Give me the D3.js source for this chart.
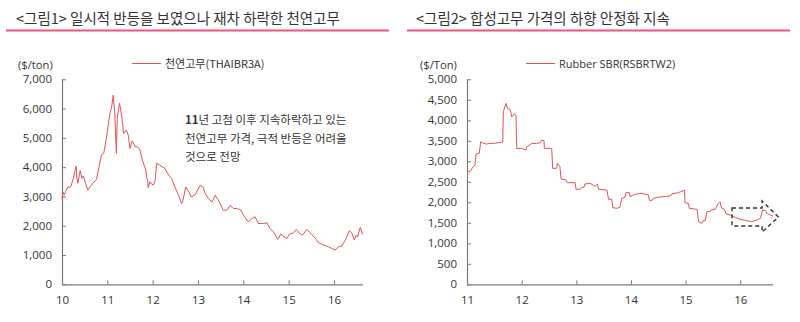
<!DOCTYPE html>
<html><head><meta charset="utf-8">
<script src="https://cdn.jsdelivr.net/npm/d3@7"></script>
<style>
body{margin:0;background:#fff;}
svg{display:block;}
text{font-family:"Open Sans","Noto Sans",sans-serif;}
.kr{font-family:"Noto Sans CJK KR","Noto Sans",sans-serif;}
</style></head>
<body>
<svg id="c" width="800" height="322"></svg>
<script>
// ---- data ----
const titles = ["<그림1> 일시적 반등을 보였으나 재차 하락한 천연고무", "<그림2> 합성고무 가격의 하향 안정화 지속"];
const legendNames = ["천연고무(THAIBR3A)", "Rubber SBR(RSBRTW2)"];
const unitLabels = ["($/ton)", "($/Ton)"];
const xTickLabelsLeft = ["10","11","12","13","14","15","16"];
const xTickLabelsRight = ["11","12","13","14","15","16"];
const yTicksLeft = [0,1000,2000,3000,4000,5000,6000,7000];
const yTicksRight = [0,500,1000,1500,2000,2500,3000,3500,4000,4500,5000];
const annotation = ["11년 고점 이후 지속하락하고 있는", "천연고무 가격, 극적 반등은 어려울", "것으로 전망"];

// natural rubber (year as decimal)
const nrDates = [2010.00,2010.02,2010.05,2010.09,2010.13,2010.17,2010.20,2010.25,2010.31,2010.33,2010.35,2010.40,2010.44,2010.47,2010.52,2010.57,2010.62,2010.68,2010.76,2010.82,2010.87,2010.92,2010.98,2011.05,2011.10,2011.13,2011.16,2011.20,2011.22,2011.27,2011.32,2011.36,2011.42,2011.46,2011.50,2011.55,2011.61,2011.66,2011.72,2011.76,2011.81,2011.85,2011.87,2011.89,2011.90,2011.94,2011.98,2012.01,2012.05,2012.09,2012.16,2012.22,2012.27,2012.31,2012.37,2012.42,2012.49,2012.57,2012.64,2012.66,2012.73,2012.80,2012.85,2012.93,2013.05,2013.11,2013.16,2013.23,2013.31,2013.38,2013.45,2013.56,2013.64,2013.71,2013.78,2013.87,2013.95,2014.00,2014.11,2014.19,2014.26,2014.33,2014.44,2014.52,2014.59,2014.66,2014.76,2014.83,2014.90,2014.96,2015.02,2015.11,2015.17,2015.24,2015.31,2015.40,2015.49,2015.59,2015.66,2015.77,2015.88,2015.95,2016.03,2016.10,2016.17,2016.25,2016.34,2016.40,2016.45,2016.49,2016.52,2016.58,2016.63];
const nrValues = [2900,3150,3050,3200,3330,3300,3360,3620,4040,3600,3450,3880,3620,3700,3450,3220,3330,3450,3580,4020,4415,4470,4985,5780,6100,6460,5950,4470,5720,6180,5720,5150,5270,5100,4640,4900,4700,4700,4590,4300,4070,3900,3620,3560,3300,3500,3420,3390,3500,4130,4070,4000,3960,3837,3700,3610,3325,3040,2755,2812,3325,3155,2983,3040,3380,3325,3097,2927,2812,3040,2870,2530,2530,2700,2587,2587,2530,2360,2133,2246,2303,2076,2076,2100,1906,1793,1532,1714,1623,1566,1714,1760,1872,1737,1680,1872,1737,1566,1419,1339,1282,1226,1169,1282,1305,1509,1827,1737,1509,1680,1623,1940,1714];

// SBR
const sbrDates = [2011.00,2011.055,2011.104,2011.147,2011.165,2011.225,2011.251,2011.30,2011.36,2011.42,2011.48,2011.57,2011.654,2011.665,2011.714,2011.74,2011.79,2011.82,2011.866,2011.897,2011.91,2012.00,2012.08,2012.093,2012.15,2012.185,2012.276,2012.337,2012.368,2012.41,2012.416,2012.55,2012.568,2012.64,2012.654,2012.70,2012.722,2012.81,2012.837,2012.978,2012.996,2013.07,2013.10,2013.14,2013.16,2013.25,2013.31,2013.34,2013.386,2013.405,2013.56,2013.59,2013.65,2013.668,2013.74,2013.80,2013.833,2013.89,2013.91,2013.97,2013.985,2014.046,2014.11,2014.20,2014.24,2014.32,2014.34,2014.40,2014.41,2014.50,2014.60,2014.72,2014.75,2014.87,2014.96,2014.98,2014.99,2015.05,2015.07,2015.21,2015.24,2015.30,2015.32,2015.36,2015.39,2015.45,2015.47,2015.54,2015.60,2015.63,2015.66,2015.71,2015.74,2015.82,2015.88,2016.00,2016.12,2016.21,2016.31,2016.37,2016.41,2016.46,2016.49,2016.55,2016.60];
const sbrValues = [2746,2746,2853,2910,3178,3195,3478,3437,3420,3437,3437,3453,3470,4210,4415,4290,4260,4080,4160,4120,3316,3316,3276,3357,3397,3437,3437,3453,3518,3502,3316,3316,2829,2829,2951,2870,2568,2544,2479,2479,2317,2317,2366,2366,2447,2463,2422,2382,2447,2317,2300,2073,2073,1870,1853,1880,2098,2122,2236,2236,2140,2180,2204,2220,2204,2180,2041,2057,2098,2122,2140,2155,2204,2236,2285,2300,1990,1974,1853,1828,1528,1488,1553,1553,1771,1771,1812,1828,1975,2015,1853,1828,1715,1690,1650,1585,1553,1528,1569,1610,1812,1796,1731,1690,1666];

// dashed arrow outline in data units [year, value]
const arrowPts = [[2015.85,1861],[2016.40,1861],[2016.40,2032],[2016.70,1641],[2016.40,1276],[2016.40,1422],[2015.85,1422]];

// ---- drawing ----
const svg = d3.select("#c");
const red = "#de5358";
const axisColor = "#7a7a7a";
const textColor = "#333";

function fmt(v){ return d3.format(",")(v); }

function panel(o){
  const x = d3.scaleLinear().domain(o.xDomain).range([o.left, o.right]);
  const y = d3.scaleLinear().domain(o.yDomain).range([o.bottom, o.top]);
  const g = svg.append("g");
  // title
  g.append("text").attr("class","kr").attr("x",o.titleX).attr("y",24)
    .attr("font-size",14.5).attr("fill",textColor).text(o.title);
  g.append("line").attr("x1",o.ruleX1).attr("x2",o.ruleX2).attr("y1",30.5).attr("y2",30.5)
    .attr("stroke","#e9577d").attr("stroke-width",2);
  // unit
  g.append("text").attr("x",o.unitX).attr("y",69).attr("font-size",11.2).attr("fill",textColor).text(o.unit);
  // legend
  g.append("line").attr("x1",o.legX).attr("x2",o.legX+29).attr("y1",63.5).attr("y2",63.5)
    .attr("stroke",red).attr("stroke-width",1);
  g.append("text").attr("class", o.legKr ? "kr" : null).attr("x",o.legX+33).attr("y",67.5)
    .attr("font-size",11).attr("fill",textColor).text(o.legend);
  // axes
  const yAxis = d3.axisLeft(y).tickValues(o.yTicks).tickSize(-4).tickPadding(10).tickFormat(fmt);
  const ya = g.append("g").attr("transform",`translate(${o.left},0)`).call(yAxis);
  const xTickVals = o.xLabels.map(s => 2000 + (+s));
  const xAxis = d3.axisBottom(x).tickValues(xTickVals).tickSize(-4).tickPadding(12).tickFormat(d => String(d-2000));
  const xa = g.append("g").attr("transform",`translate(0,${o.bottom})`).call(xAxis);
  [ya,xa].forEach(a=>{
    a.select(".domain").attr("stroke",axisColor).attr("stroke-width",1.2);
    a.selectAll(".tick line").attr("stroke",axisColor).attr("stroke-width",1);
    a.selectAll(".tick text").attr("fill",textColor).attr("font-size",11.5)
      .attr("font-family","'Open Sans','Noto Sans',sans-serif");
  });
  xa.select(".domain").attr("d",`M${o.left},0.5H${o.right}`);
  ya.select(".domain").attr("d",`M0.5,${o.bottom}V${o.top}`);
  // line
  const pts = o.dates.map((d,i)=>[d,o.values[i]]);
  g.append("path").datum(pts)
    .attr("d", d3.line().x(d=>x(d[0])).y(d=>y(d[1])))
    .attr("fill","none").attr("stroke",red).attr("stroke-width",1).attr("stroke-linejoin","round");
  return {x,y,g};
}

const L = panel({title:titles[0], titleX:16, ruleX1:6, ruleX2:389, unit:unitLabels[0], unitX:18,
  legX:132, legend:legendNames[0], legKr:true,
  xDomain:[2010, 2016.64], yDomain:[0,7000], left:62, right:363, top:79.3, bottom:284.3,
  yTicks:yTicksLeft, xLabels:xTickLabelsLeft, dates:nrDates, values:nrValues});

const R = panel({title:titles[1], titleX:416, ruleX1:407, ruleX2:790, unit:unitLabels[1], unitX:420,
  legX:526, legend:legendNames[1], legKr:false,
  xDomain:[2011, 2016.6], yDomain:[0,5000], left:467, right:773, top:79.3, bottom:284.3,
  yTicks:yTicksRight, xLabels:xTickLabelsRight, dates:sbrDates, values:sbrValues});

// annotation
annotation.forEach((s,i)=>{
  const t = L.g.append("text").attr("class","kr").attr("x",185).attr("y",124+i*18.5)
    .attr("font-size",11.5).attr("fill",textColor);
  if(i===0){
    t.append("tspan").attr("font-weight","bold").text("11");
    t.append("tspan").text(s.slice(2));
  } else t.text(s);
});

// dashed arrow
R.g.append("path")
  .attr("d", d3.line().x(d=>R.x(d[0])).y(d=>R.y(d[1])).curve(d3.curveLinearClosed)(arrowPts))
  .attr("fill","none").attr("stroke","#333").attr("stroke-width",1.4).attr("stroke-dasharray","4,3");
</script>
</body></html>
